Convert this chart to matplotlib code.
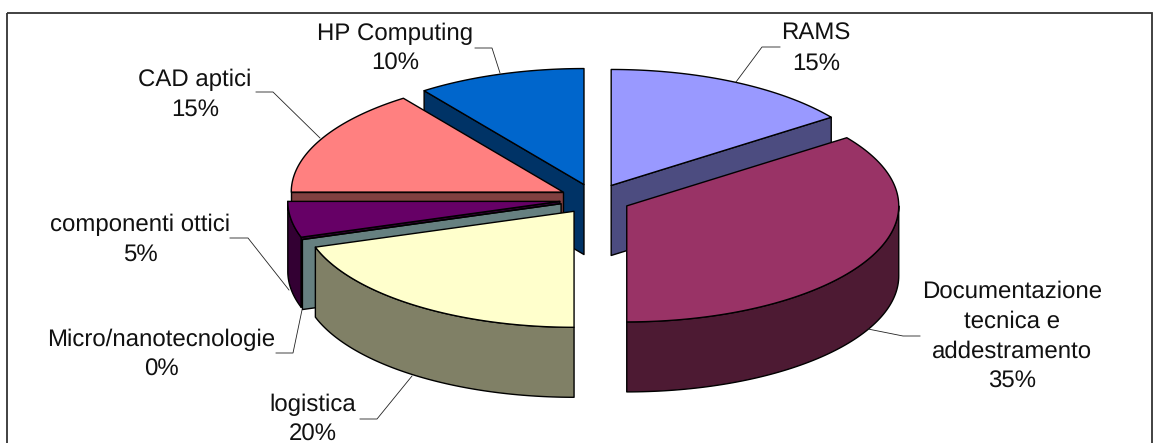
"""Exploded 3D pie, drawn by hand because matplotlib has no extruded pie."""
import numpy as np
import matplotlib

matplotlib.use("Agg")
import matplotlib.pyplot as plt
from matplotlib.patches import Polygon

plt.rcParams["text.hinting"] = "none"
plt.rcParams["text.hinting_factor"] = 1

labels = ["RAMS", "Documentazione\ntecnica e\naddestramento", "logistica",
          "Micro/nanotecnologie", "componenti ottici", "CAD aptici", "HP Computing"]
values = [15, 35, 20, 0, 5, 15, 10]
top_colors = ["#9999FF", "#993366", "#FFFFCC", "#CCFFFF", "#660066", "#FF8080", "#0066CC"]
side_colors = ["#4C4C80", "#4D1A33", "#808066", "#668080", "#330033", "#804040", "#003366"]
draw_order = [6, 0, 5, 4, 3, 1, 2]

# label centre (px), percent text follows underneath
label_x = [816, 1012, 313, 161, 140, 195, 395]
label_y = [34, 292, 405, 340, 225, 80, 34]
leaders = [
    [(780, 47), (762, 47), (736, 82)],
    [(920, 336), (903, 336), (868, 329)],
    [(360, 419), (377, 419), (412, 376)],
    [(276, 353), (293, 353), (302, 310)],
    [(230, 238), (248, 238), (289, 290)],
    [(256, 92), (273, 92), (320, 138)],
    [(475, 48), (492, 48), (500, 73)],
]

CX, CY = 595.0, 199.0
RX, RY = 272.0, 116.0
EXPLODE = 0.131
DEPTH = 70
EDGE = dict(edgecolor="black", linewidth=1.0, joinstyle="round")


def rim(angles, ox, oy):
    return np.column_stack([ox + RX * np.sin(angles), oy - RY * np.cos(angles)])


def draw_slice(ax, start, end, top, side, z):
    mid = (start + end) / 2
    ox = CX + EXPLODE * RX * np.sin(mid)
    oy = CY - EXPLODE * RY * np.cos(mid)
    down = np.array([0, DEPTH])
    apex = np.array([[ox, oy]])

    # flat cut faces, only where they turn toward the viewer
    for ang, sign in [(start, -1), (end, 1)]:
        if -sign * np.cos(ang + np.pi / 2) > 1e-6:
            tip = rim(np.array([ang]), ox, oy)
            pts = np.vstack([apex, tip, tip + down, apex + down])
            ax.add_patch(Polygon(pts, facecolor=side, zorder=z, **EDGE))

    # outer wall, lower half of the ellipse only
    lo, hi = max(start, np.pi / 2), min(end, 3 * np.pi / 2)
    if hi > lo:
        arc = rim(np.linspace(lo, hi, 80), ox, oy)
        ax.add_patch(Polygon(np.vstack([arc, arc[::-1] + down]),
                             facecolor=side, zorder=z + 0.1, **EDGE))

    arc = rim(np.linspace(start, end, 120), ox, oy)
    ax.add_patch(Polygon(np.vstack([apex, arc]), facecolor=top, zorder=z + 0.2, **EDGE))


fig = plt.figure(figsize=(11.62, 4.43), dpi=100)
ax = fig.add_axes([0, 0, 1, 1])
ax.set_xlim(0, 1162)
ax.set_ylim(443, 0)
ax.axis("off")

edges = np.deg2rad(np.cumsum([0] + values) / sum(values) * 360)
for z, i in enumerate(draw_order):
    draw_slice(ax, edges[i], edges[i + 1], top_colors[i], side_colors[i], z + 1)

ax.add_patch(plt.Rectangle((7, 13), 1145, 440, fill=False, edgecolor="#333333",
                           linewidth=1.3, zorder=0))

for name, val, x, y, line in zip(labels, values, label_x, label_y, leaders):
    xs, ys = zip(*line)
    ax.plot(xs, ys, color="#222222", linewidth=0.6, zorder=20, solid_joinstyle="miter")
    parts = name.split("\n") + [f"{val}%"]
    for k, part in enumerate(parts):
        ax.text(x, y + k * 30, part, family="Liberation Sans", fontsize=17,
                ha="center", va="center", color="#111111", zorder=21)

fig.savefig("out.png", dpi=100)
